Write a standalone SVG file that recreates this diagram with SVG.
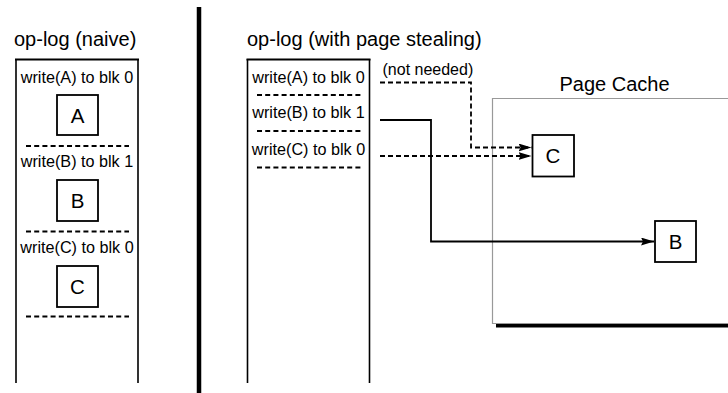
<svg xmlns="http://www.w3.org/2000/svg" width="728" height="393" viewBox="0 0 728 393">
<defs>
<style>
text{font-family:"Liberation Sans",Arial,sans-serif;fill:#000}
.title{font-size:20px}
.op{font-size:16.2px;text-anchor:middle}
.blk{font-size:20.5px;text-anchor:middle}
.box{fill:#fff;stroke:#000;stroke-width:1.8}
.side{fill:none;stroke:#000;stroke-width:1.6}
.top{stroke:#000;stroke-width:2.2}
.sep{stroke:#000;stroke-width:2;stroke-dasharray:5 3.2}
.conn{fill:none;stroke:#000;stroke-width:1.8}
.dash{stroke-dasharray:5 3}
</style>
<marker id="ah" viewBox="0 0 13 8" refX="13" refY="4" markerWidth="13" markerHeight="8" markerUnits="userSpaceOnUse" orient="auto">
<path d="M0,0 L13,4 L0,8 L2,4 Z" fill="#000"/>
</marker>
</defs>
<rect width="728" height="393" fill="#fff"/>

<!-- divider -->
<line x1="199" y1="7" x2="199" y2="393" stroke="#000" stroke-width="4.5"/>

<g id="naive-log">
<text class="title" x="14" y="46">op-log (naive)</text>
<path class="side" d="M16,383 V59 M138,59 V383"/>
<line class="top" x1="15" y1="59.5" x2="139" y2="59.5"/>
<text class="op" x="77" y="83">write(A) to blk 0</text>
<g id="naive-A"><rect class="box" x="57" y="95" width="41" height="40"/><text class="blk" x="77.5" y="122.5">A</text></g>
<line class="sep" x1="26" y1="146" x2="129" y2="146"/>
<text class="op" x="77" y="167">write(B) to blk 1</text>
<g id="naive-B"><rect class="box" x="57" y="180" width="41" height="41"/><text class="blk" x="77.5" y="208">B</text></g>
<line class="sep" x1="26" y1="231.5" x2="129" y2="231.5"/>
<text class="op" x="77" y="253">write(C) to blk 0</text>
<g id="naive-C"><rect class="box" x="57" y="266" width="41" height="41"/><text class="blk" x="77.5" y="293.5">C</text></g>
<line class="sep" x1="26" y1="316.5" x2="129" y2="316.5"/>
</g>

<g id="steal-log">
<text class="title" x="247" y="46">op-log (with page stealing)</text>
<path class="side" d="M247.5,383 V59 M369.5,59 V383"/>
<line class="top" x1="246.5" y1="59.5" x2="370.5" y2="59.5"/>
<text class="op" x="308.5" y="82.5">write(A) to blk 0</text>
<line class="sep" x1="257" y1="95" x2="361" y2="95"/>
<text class="op" x="308.5" y="118">write(B) to blk 1</text>
<line class="sep" x1="257" y1="131" x2="361" y2="131"/>
<text class="op" x="308.5" y="154.5">write(C) to blk 0</text>
<line class="sep" x1="257" y1="167.5" x2="361" y2="167.5"/>
</g>

<g id="page-cache">
<line x1="496" y1="325.5" x2="728" y2="325.5" stroke="#000" stroke-width="4"/>
<path d="M728,98.5 H492.5 V323.5 H728" fill="none" stroke="#999" stroke-width="1.2"/>
<text class="title" x="614.5" y="90.5" text-anchor="middle">Page Cache</text>
</g>

<g id="cache-C"><rect class="box" x="532.5" y="135" width="41.5" height="41.5"/><text class="blk" x="553" y="163">C</text></g>
<g id="cache-B"><rect class="box" x="655" y="221" width="41" height="41"/><text class="blk" x="675.5" y="248.5">B</text></g>

<g id="connectors">
<text x="382.5" y="75" font-size="16">(not needed)</text>
<path class="conn dash" d="M380,82.5 H471 V147.5 H531.5" marker-end="url(#ah)"/>
<path class="conn dash" d="M380,156 H531.5" marker-end="url(#ah)"/>
<path class="conn" d="M380,120 H431 V241.5 H654" marker-end="url(#ah)"/>
</g>
</svg>
